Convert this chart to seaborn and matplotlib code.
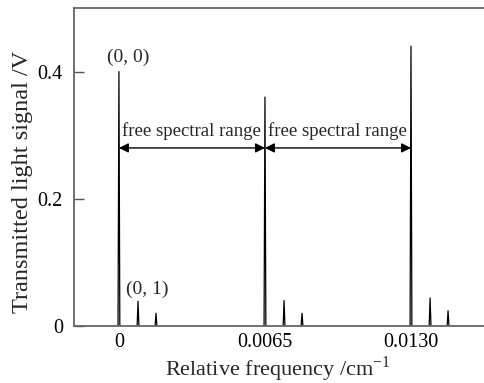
import matplotlib
matplotlib.use("Agg")
import matplotlib.pyplot as plt
import seaborn as sns
import pandas as pd

# peak data
peak_pos = [0.0, 0.00085, 0.00165, 0.0065, 0.00735, 0.00815, 0.0130, 0.01385, 0.01465]
peak_height = [0.40, 0.039, 0.020, 0.36, 0.040, 0.020, 0.44, 0.044, 0.024]
xticks = [0, 0.0065, 0.0130]
xtick_labels = ["0", "0.0065", "0.0130"]
yticks = [0, 0.2, 0.4]
ytick_labels = ["0", "0.2", "0.4"]
fsr_edges = [0.0, 0.0065, 0.0130]

sns.set_theme(style="ticks")
plt.rcParams["font.family"] = ["Liberation Serif", "DejaVu Serif"]
plt.rcParams["mathtext.fontset"] = "custom"
plt.rcParams["mathtext.rm"] = "Liberation Serif"

hw = 0.00004
rows = []
for i, (p, h) in enumerate(zip(peak_pos, peak_height)):
    rows += [(i, p - hw, 0.0), (i, p, h), (i, p + hw, 0.0)]
df = pd.DataFrame(rows, columns=["peak", "x", "y"])

fig = plt.figure(figsize=(4.84, 3.83), dpi=100)
ax = fig.add_axes([74 / 484, 1 - 326 / 383, 1 - 74 / 484, (326 - 8) / 383])
sns.lineplot(data=df, x="x", y="y", units="peak", estimator=None, sort=False,
             color="black", linewidth=0.9, ax=ax)

ax.set_xlim(-0.00200, 0.01625)
ax.set_ylim(0, 0.5)
ax.set_xticks(xticks)
ax.set_xticklabels(xtick_labels)
ax.set_yticks(yticks)
ax.set_yticklabels(ytick_labels)
ax.tick_params(direction="in", length=7, width=1, colors="#555555",
               labelcolor="black", labelsize=14.5, pad=8)
ax.tick_params(axis="x", length=0, pad=5)
for s in ["top", "left", "bottom"]:
    ax.spines[s].set_color("#666666")
    ax.spines[s].set_linewidth(1.3)
ax.spines["right"].set_visible(False)

ax.set_xlabel("Relative frequency /cm$^{-1}$", fontsize=16, va="center", ha="center")
ax.set_ylabel("Transmitted light signal /V", fontsize=17.5, va="center", ha="center")
ax.xaxis.set_label_coords(0.4976, (326 - 369) / 318)
ax.yaxis.set_label_coords((23 - 74) / 410, (326 - 182) / 318)

for a, b in zip(fsr_edges[:-1], fsr_edges[1:]):
    ax.annotate("", xy=(a, 0.28), xytext=(b, 0.28),
                arrowprops=dict(arrowstyle="<|-|>", color="black", lw=1.0,
                                mutation_scale=14, shrinkA=0, shrinkB=0))
    ax.text(a + 0.00012, 0.292, "free spectral range", fontsize=13.5,
            ha="left", va="bottom")

ax.text(0.0004, 0.422, "(0, 0)", fontsize=14, ha="center", va="center")
ax.text(0.00125, 0.057, "(0, 1)", fontsize=14, ha="center", va="center")

fig.savefig("out.png", dpi=100)
